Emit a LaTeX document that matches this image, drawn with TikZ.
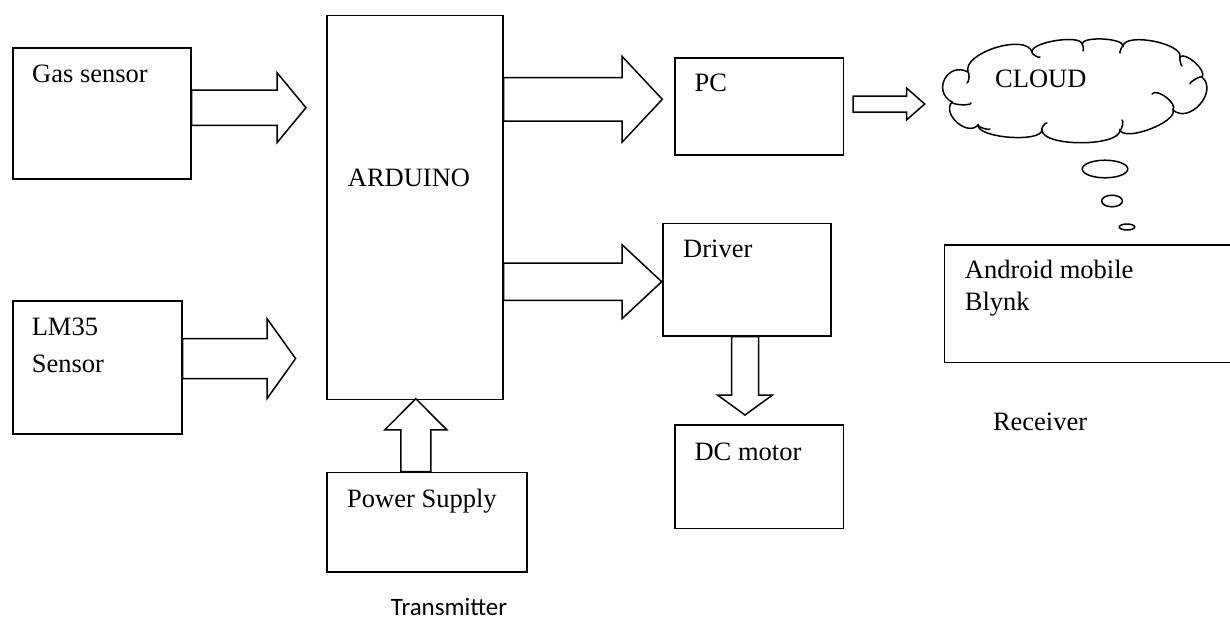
\documentclass[tikz,border=0pt]{standalone}
\usepackage{fontspec}
\setmainfont{Liberation Serif}
\newfontfamily\calibfont{Carlito}
\usetikzlibrary{calc,shapes.geometric}
\tikzset{
  blk/.style={draw, line width=1.5pt, rectangle, inner sep=0pt, anchor=north west},
  lbl/.style={inner sep=0pt, anchor=base west, font=\fontsize{26.5}{31}\selectfont},
  barr/.style={draw, line width=1.5pt, line join=miter, fill=white},
  bub/.style={draw, line width=1.5pt, ellipse, inner sep=0pt},
  cl/.style={draw, line width=1.5pt, line cap=round},
  puff/.style={to path={.. controls ($(\tikztostart)!#1!90:(\tikztotarget)$)
      and ($(\tikztotarget)!#1!-90:(\tikztostart)$) .. (\tikztotarget)}},
}
% horizontal block arrow: start, tip, shaft half, head half, head length
\newcommand{\harrow}[5]{\path[barr] let \p1=#1, \p2=#2 in
  ({\x1},{\y2+#3}) -- ({\x2-#5},{\y2+#3}) -- ({\x2-#5},{\y2+#4}) -- (\x2,\y2)
  -- ({\x2-#5},{\y2-#4}) -- ({\x2-#5},{\y2-#3}) -- ({\x1},{\y2-#3}) -- cycle;}
% vertical block arrow: start, tip, shaft half, head half, signed head length (canvas)
\newcommand{\varrow}[5]{\path[barr] let \p1=#1, \p2=#2 in
  ({\x2+#3},{\y1}) -- ({\x2+#3},{\y2+#5}) -- ({\x2+#4},{\y2+#5}) -- (\x2,\y2)
  -- ({\x2-#4},{\y2+#5}) -- ({\x2-#3},{\y2+#5}) -- ({\x2-#3},{\y1}) -- cycle;}
\begin{document}
\begin{tikzpicture}[x=1pt,y=-1pt]
\useasboundingbox (0,0) rectangle (1230,621);
% boxes
\node[blk, minimum width=178pt, minimum height=131pt] (gas) at (12,47) {};
\node[blk, minimum width=169pt, minimum height=133pt] (lm) at (12,300) {};
\node[blk, minimum width=176pt, minimum height=384pt] (ard) at (326,14.7) {};
\node[blk, minimum width=168.5pt, minimum height=97.3pt] (pc) at (674,57) {};
\node[blk, minimum width=168pt, minimum height=112.3pt] (drv) at (662,222.7) {};
\node[blk, minimum width=168.5pt, minimum height=103.7pt] (dc) at (674,424) {};
\node[blk, minimum width=200pt, minimum height=99.4pt] (pwr) at (326,471.6) {};
\node[blk, minimum width=300pt, minimum height=117.4pt] (andr) at (943.6,244.3) {};
% cloud outline
\path[cl] (952,102) to[puff=23pt] (968,72) to[puff=20pt] (1032,52)
  to[puff=10pt] (1082,44) to[puff=8pt] (1123,46) to[puff=14pt] (1180,57)
  to[puff=8pt] (1202,77) to[puff=22pt] (1173,110) to[puff=13pt] (1120,130)
  to[puff=17pt] (1042,130) to[puff=13pt] (978,125) to[puff=16pt] (952,102) -- cycle;
% cloud inner hooks
\path[cl] (952,102) to[puff=-3pt] (971,103);
\path[cl] (968,72) to[puff=2pt] (967,83);
\path[cl] (1032,52) to[puff=-2pt] (1040,57);
\path[cl] (1082,44) to[puff=1pt] (1083,51);
\path[cl] (1123,46) to[puff=-1pt] (1120,53);
\path[cl] (1180,57) to[puff=-1pt] (1182,66);
\path[cl] (1202,77) to[puff=-2pt] (1190,84);
\path[cl] (1152,94) to[puff=8pt] (1173,110);
\path[cl] (1120,130) to[puff=-2pt] (1122,120);
\path[cl] (1042,130) to[puff=2pt] (1047,123);
\path[cl] (978,125) to[puff=-2pt] (990,129);
% thought bubbles
\node[bub, minimum width=45.5pt, minimum height=17.6pt] (b1) at (1105,169) {};
\node[bub, minimum width=20.8pt, minimum height=11.6pt] (b2) at (1112,201) {};
\node[bub, minimum width=15.4pt, minimum height=6pt] (b3) at (1127,227) {};
% arrow tips
\coordinate (t1) at (306,107.7);
\coordinate (t2) at (295.6,358.6);
\coordinate (t3) at (662.3,99.3);
\coordinate (t4) at (661.7,281.7);
\coordinate (t5) at (924.7,104);
\coordinate (t6) at (415.8,398.7);
\coordinate (t7) at (745,415);
% arrows
\harrow{(gas.east)}{(t1)}{17.7}{35}{29}
\harrow{(lm.east)}{(t2)}{20}{40}{28.6}
\harrow{(ard.east)}{(t3)}{21.7}{43}{40.3}
\harrow{(ard.east)}{(t4)}{18.7}{37}{39.7}
\harrow{([xshift=9.1pt]pc.east)}{(t5)}{8}{16}{18.2}
\varrow{(pwr.north)}{(t6)}{15}{31}{-31.1}
\varrow{(drv.south)}{(t7)}{13.5}{27.5}{20}
% labels
\node[lbl] (lgas) at (32,82) {Gas sensor};
\node[lbl] (llm1) at (31.6,335) {LM35};
\node[lbl] (llm2) at (31.6,372) {Sensor};
\node[lbl] (lard) at (347.7,186) {ARDUINO};
\node[lbl] (lpc) at (694.5,91.7) {PC};
\node[lbl] (lcl) at (995,87.3) {CLOUD};
\node[lbl] (ldrv) at (683,257.7) {Driver};
\node[lbl] (ldc) at (694.4,460) {DC motor};
\node[lbl] (lpwr) at (347,507) {Power Supply};
\node[lbl] (land1) at (964.7,278.3) {Android mobile};
\node[lbl] (land2) at (964.7,310.7) {Blynk};
\node[lbl] (lrec) at (992.8,430) {Receiver};
\node[inner sep=0pt, anchor=base west, font=\calibfont\fontsize{25}{30}\selectfont] (ltx) at (390.7,615) {Transmitter};
\end{tikzpicture}
\end{document}
